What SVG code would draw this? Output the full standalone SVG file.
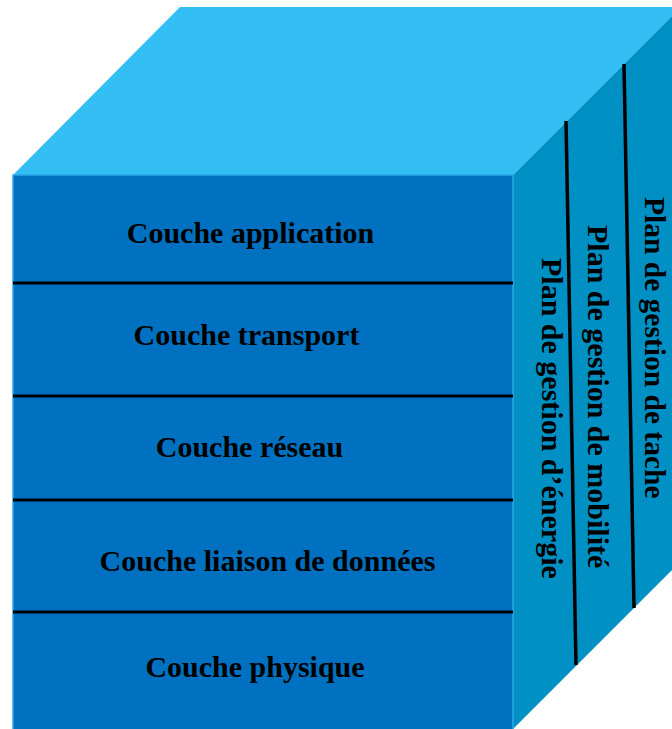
<svg xmlns="http://www.w3.org/2000/svg" width="672" height="729" viewBox="0 0 672 729">
  <style>
    .lbl { font-family: "Liberation Serif", "Times New Roman", serif; font-weight: bold; font-size: 30px; fill: #000; }
    .sep { stroke: #000; stroke-width: 3; }
    .vsep { stroke: #000; stroke-width: 3.5; }
  </style>
  <rect width="672" height="729" fill="#ffffff"/>
  <g id="cube">
    <polygon id="top-face" points="13,175 180,7 672,7 672,16 513,175" fill="#33BFF3"/>
    <polygon id="right-face" points="513,175 672,16 672,570 513,729" fill="#0090C4"/>
    <rect id="front-face" x="13" y="175" width="500" height="560" fill="#0070C0" stroke="#2AA8E8" stroke-width="1.5"/>
  </g>
  <g id="connectors">
    <line class="sep" x1="13" y1="283" x2="513" y2="283"/>
    <line class="sep" x1="13" y1="396" x2="513" y2="396"/>
    <line class="sep" x1="13" y1="500" x2="513" y2="500"/>
    <line class="sep" x1="13" y1="612" x2="513" y2="612"/>
    <line class="vsep" x1="566" y1="121" x2="576" y2="665"/>
    <line class="vsep" x1="624" y1="64" x2="634" y2="608"/>
  </g>
  <g id="layer-application"><text class="lbl" x="250.5" y="243" text-anchor="middle">Couche application</text></g>
  <g id="layer-transport"><text class="lbl" x="246.5" y="345" text-anchor="middle">Couche transport</text></g>
  <g id="layer-reseau"><text class="lbl" x="249.5" y="457" text-anchor="middle">Couche réseau</text></g>
  <g id="layer-liaison"><text class="lbl" x="267.5" y="571" text-anchor="middle">Couche liaison de données</text></g>
  <g id="layer-physique"><text class="lbl" x="255" y="677" text-anchor="middle">Couche physique</text></g>
  <g id="plan-energie"><text class="lbl" transform="translate(542,258) rotate(90)" x="0" y="0">Plan de gestion d’énergie</text></g>
  <g id="plan-mobilite"><text class="lbl" transform="translate(588,225) rotate(90)" x="0" y="0">Plan de gestion de mobilité</text></g>
  <g id="plan-tache"><text class="lbl" transform="translate(645,197) rotate(90)" x="0" y="0" style="font-size:29.5px">Plan de gestion de tache</text></g>
</svg>
